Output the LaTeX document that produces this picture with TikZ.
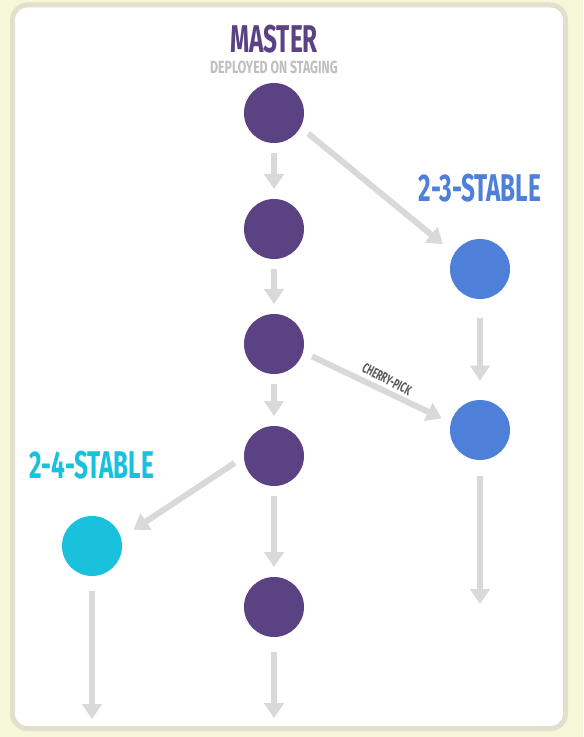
\documentclass[tikz,border=0pt]{standalone}
\usepackage{fontspec}
\usepackage{tikz}
\usetikzlibrary{arrows.meta}
\newfontfamily\bebas[FakeStretch=0.63]{Fira Sans}
\newfontfamily\bebaswide[FakeStretch=0.7]{Fira Sans}
\definecolor{master}{HTML}{5B4283}
\definecolor{stableb}{HTML}{4F80D9}
\definecolor{stablec}{HTML}{19C1DC}
\definecolor{arrgray}{HTML}{D9D9D9}
\definecolor{paper}{HTML}{F6F6D9}
\definecolor{frame}{HTML}{E2E0CC}
\begin{document}
\begin{tikzpicture}
[x=0.03cm,y=-0.03cm,%%%%%%%%%%%%%%%%%%%%%%%%%%%%%%
commit/.style={circle,minimum size=1.8cm,inner sep=0pt,outer sep=0.3cm},
arr/.style={draw=arrgray,line width=0.18cm,-{Triangle[length=0.45cm,width=0.58cm]}},
branch/.style={font=\bebas\bfseries\fontsize{33}{33}\selectfont},
]%%%%%%%%%%%%%%%%%%%%%%%%%%%%%%
\useasboundingbox (0,0) rectangle (583,737);
\fill[paper] (0,0) rectangle (583,737);
\draw[frame,fill=white,line width=0.15cm,rounded corners=0.45cm] (12.5,5) rectangle (565.5,728.5);
% master line
\foreach \n/\y in {1/113,2/229,3/344,4/456,5/607}
\node[commit,fill=master] (m\n) at (274,\y){};
\node[commit,fill=stableb] (b1) at (480,269){};
\node[commit,fill=stableb] (b2) at (480,430){};
\node[commit,fill=stablec] (c1) at (92,546){};
\coordinate (m5end) at (274,718);
\coordinate (b2end) at (480,604);
\coordinate (c1end) at (92,719);
% labels
\node[branch,text=master] (lmaster) at (274,39){MASTER};
\node[text=black!25,font=\bebaswide\bfseries\fontsize{15}{15}\selectfont] (ldeploy) at (274,67){DEPLOYED ON STAGING};
\node[branch,text=stableb] (lb) at (480,188){2-3-STABLE};
\node[branch,text=stablec] (lc) at (92,465){2-4-STABLE};
% arrows
\foreach \a/\b in {m1/m2,m2/m3,m3/m4,m4/m5}
\draw[arr] (\a) -- (\b);
\draw[arr] (m5) ++(0,45) -- (m5end);
\draw[arr,shorten >=4] (m1.-31) -- (b1.147);
\draw[arr,shorten <=8,shorten >=8] (b1) -- (b2);
\draw[arr] (m3.-18) -- node[above,sloped,rotate=-2,text=black!65,font=\bebas\bfseries\fontsize{12}{12}\selectfont,xshift=0.15cm]{CHERRY-PICK} (b2.163);
\draw[arr] (b2) ++(0,46) -- (b2end);
\draw[arr,shorten >=4] (m4.190) -- (c1.20);
\draw[arr] (c1) ++(0,45) -- (c1end);
\end{tikzpicture}
\end{document}
